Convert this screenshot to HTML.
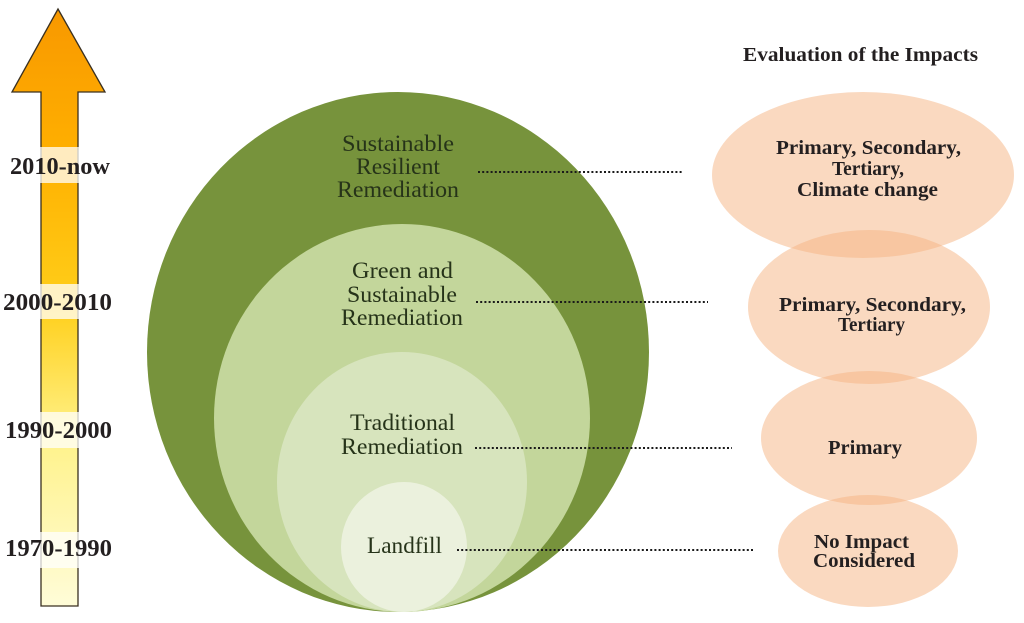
<!DOCTYPE html>
<html><head><meta charset="utf-8"><style>
html,body{margin:0;padding:0;background:#fff;}
svg{display:block;}
.s{font-family:"Liberation Serif",serif;}
</style></head><body>
<svg width="1024" height="623" viewBox="0 0 1024 623" xmlns="http://www.w3.org/2000/svg">
<defs>
<linearGradient id="ag" gradientUnits="userSpaceOnUse" x1="0" y1="8" x2="0" y2="606">
<stop offset="0" stop-color="#f89800"/>
<stop offset="0.25" stop-color="#ffb000"/>
<stop offset="0.5" stop-color="#ffcf1a"/>
<stop offset="0.72" stop-color="#fff28a"/>
<stop offset="1" stop-color="#fffcd8"/>
</linearGradient>
</defs>
<!-- arrow -->
<path d="M58,9 L105,92 L78,92 L78,606 L41,606 L41,92 L12,92 Z" fill="url(#ag)" stroke="#3a3020" stroke-width="1.3"/>
<!-- label bands -->
<rect x="0" y="147" width="115" height="36" fill="#fff" fill-opacity="0.75"/>
<rect x="0" y="284" width="115" height="35" fill="#fff" fill-opacity="0.75"/>
<rect x="0" y="412" width="115" height="36" fill="#fff" fill-opacity="0.75"/>
<rect x="0" y="532" width="115" height="36" fill="#fff" fill-opacity="0.75"/>
<g class="s" font-weight="bold" font-size="24" fill="#231f20">
<text x="10" y="174" textLength="100" lengthAdjust="spacingAndGlyphs">2010-now</text>
<text x="3" y="310" textLength="109" lengthAdjust="spacingAndGlyphs">2000-2010</text>
<text x="5" y="438" textLength="107" lengthAdjust="spacingAndGlyphs">1990-2000</text>
<text x="5" y="556" textLength="107" lengthAdjust="spacingAndGlyphs">1970-1990</text>
</g>
<!-- green circles -->
<ellipse cx="398" cy="352" rx="251" ry="260" fill="#77933c"/>
<ellipse cx="402" cy="418" rx="188" ry="194" fill="#c3d69b"/>
<ellipse cx="402" cy="482" rx="125" ry="130" fill="#d7e4bd"/>
<ellipse cx="404" cy="547" rx="63" ry="65" fill="#ebf1dd"/>
<g class="s" font-size="23" fill="#263319">
<text x="342" y="151" textLength="112" lengthAdjust="spacingAndGlyphs">Sustainable</text>
<text x="356" y="174" textLength="84" lengthAdjust="spacingAndGlyphs">Resilient</text>
<text x="337" y="197" textLength="122" lengthAdjust="spacingAndGlyphs">Remediation</text>
<text x="352" y="278" textLength="101" lengthAdjust="spacingAndGlyphs">Green and</text>
<text x="347" y="302" textLength="110" lengthAdjust="spacingAndGlyphs">Sustainable</text>
<text x="341" y="325" textLength="122" lengthAdjust="spacingAndGlyphs">Remediation</text>
<text x="350" y="430" textLength="105" lengthAdjust="spacingAndGlyphs">Traditional</text>
<text x="341" y="454" textLength="122" lengthAdjust="spacingAndGlyphs">Remediation</text>
<text x="367" y="553" textLength="75" lengthAdjust="spacingAndGlyphs">Landfill</text>
</g>
<!-- peach ellipses -->
<g fill="rgb(245,179,129)" fill-opacity="0.5">
<ellipse cx="863" cy="175" rx="151" ry="83"/>
<ellipse cx="869" cy="307" rx="121" ry="77"/>
<ellipse cx="869" cy="438" rx="108" ry="67"/>
<ellipse cx="868" cy="551" rx="90" ry="56"/>
</g>
<!-- dotted lines -->
<g stroke="#1a1a1a" stroke-width="2" stroke-dasharray="2 2.2" fill="none">
<line x1="478" y1="172" x2="683" y2="172"/>
<line x1="476" y1="302" x2="708" y2="302"/>
<line x1="475" y1="448" x2="732" y2="448"/>
<line x1="457" y1="550" x2="753" y2="550"/>
</g>
<g class="s" font-weight="bold" font-size="20" fill="#231f20">
<text x="743" y="61" textLength="235" lengthAdjust="spacingAndGlyphs">Evaluation of the Impacts</text>
<text x="776" y="154" textLength="185" lengthAdjust="spacingAndGlyphs">Primary, Secondary,</text>
<text x="832" y="175" textLength="72" lengthAdjust="spacingAndGlyphs">Tertiary,</text>
<text x="797" y="196" textLength="141" lengthAdjust="spacingAndGlyphs">Climate change</text>
<text x="779" y="311" textLength="187" lengthAdjust="spacingAndGlyphs">Primary, Secondary,</text>
<text x="838" y="331" textLength="67" lengthAdjust="spacingAndGlyphs">Tertiary</text>
<text x="828" y="454" textLength="74" lengthAdjust="spacingAndGlyphs">Primary</text>
<text x="814" y="548" textLength="95" lengthAdjust="spacingAndGlyphs">No Impact</text>
<text x="813" y="567" textLength="102" lengthAdjust="spacingAndGlyphs">Considered</text>
</g>
</svg>
</body></html>
